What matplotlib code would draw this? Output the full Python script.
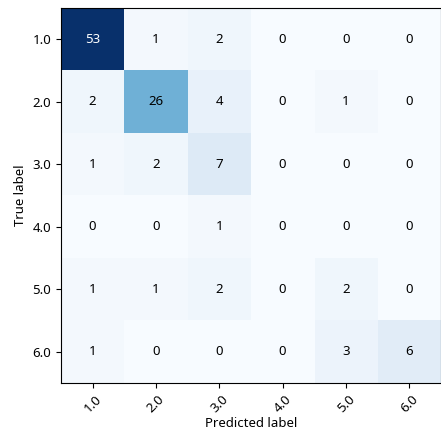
import numpy as np
import matplotlib.pyplot as plt

plt.rcParams['font.family'] = ['Noto Sans', 'DejaVu Sans']

labels = ['1.0', '2.0', '3.0', '4.0', '5.0', '6.0']
cm = np.array([
    [53, 1, 2, 0, 0, 0],
    [2, 26, 4, 0, 1, 0],
    [1, 2, 7, 0, 0, 0],
    [0, 0, 1, 0, 0, 0],
    [1, 1, 2, 0, 2, 0],
    [1, 0, 0, 0, 3, 6],
])

fig = plt.figure(figsize=(4.41, 4.32), dpi=100)
ax = fig.add_axes([0.138, 0.1134, 0.862, 0.868])

ax.imshow(cm, cmap='Blues', interpolation='nearest', aspect='auto')
thresh = (cm.max() + cm.min()) / 2.0
for i in range(cm.shape[0]):
    for j in range(cm.shape[1]):
        color = 'white' if cm[i, j] > thresh else 'black'
        ax.text(j, i, str(cm[i, j]), ha='center', va='center', color=color, fontsize=9.5)

ax.set_xticks(range(len(labels)))
ax.set_yticks(range(len(labels)))
ax.set_xticklabels(labels, rotation=45, fontsize=9.5)
ax.set_yticklabels(labels, fontsize=9.5)
ax.set_xlabel('Predicted label', fontsize=9.5, labelpad=1)
ax.set_ylabel('True label', fontsize=9.5)

fig.savefig('out.png', dpi=100)
